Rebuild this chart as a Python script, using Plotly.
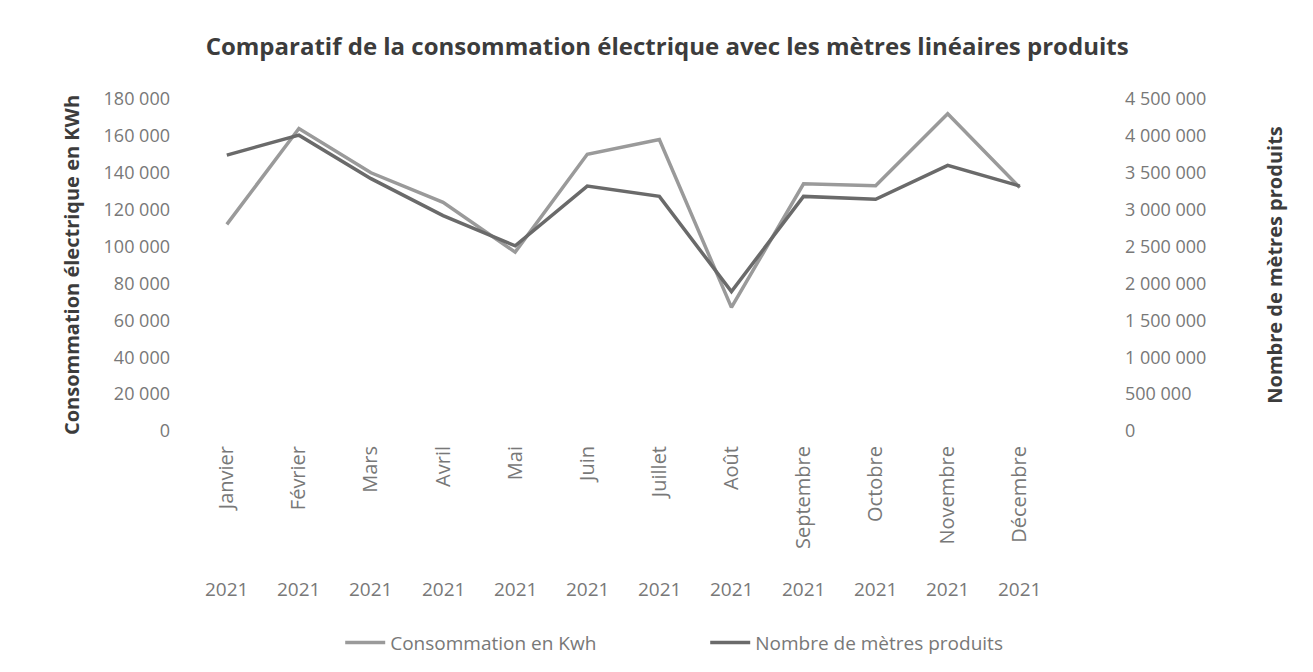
import plotly.graph_objects as go

# months / year (two-level category axis in the original)
months = ["Janvier", "Février", "Mars", "Avril", "Mai", "Juin", "Juillet",
          "Août", "Septembre", "Octobre", "Novembre", "Décembre"]
years = ["2021"] * 12

# values
conso_kwh = [112000, 164000, 140000, 124000, 97000, 150000, 158000,
             67000, 134000, 133000, 172000, 132000]
metres = [3740000, 4010000, 3420000, 2920000, 2510000, 3320000, 3180000,
          1890000, 3180000, 3140000, 3600000, 3320000]

FONT = "Open Sans"
LABEL_GREY = "#787878"
TITLE_GREY = "#3c3c3c"

fig = go.Figure()

fig.add_trace(go.Scatter(
    x=months, y=conso_kwh,
    mode="lines",
    name="Consommation en Kwh",
    line=dict(color="#9a9a9a", width=3.5),
    yaxis="y",
))

fig.add_trace(go.Scatter(
    x=months, y=metres,
    mode="lines",
    name="Nombre de mètres produits",
    line=dict(color="#6a6a6a", width=3.5),
    yaxis="y2",
))

# second level of the category axis: the year under each month
for m, yr in zip(months, years):
    fig.add_annotation(
        x=m, y=-0.476, xref="x", yref="paper",
        yanchor="middle",
        text=yr, showarrow=False,
        font=dict(family=FONT, size=19, color=LABEL_GREY),
    )

fig.update_layout(
    width=1313, height=672,
    paper_bgcolor="white", plot_bgcolor="white",
    separators=", ",
    margin=dict(l=177, r=201, t=91, b=249),
    title=dict(
        text="<b>Comparatif de la consommation électrique avec les mètres linéaires produits</b>",
        x=0.502, xanchor="center", y=0.943, yanchor="middle",
        font=dict(family=FONT, size=24, color=TITLE_GREY),
    ),
    xaxis=dict(
        type="category",
        range=[-0.58, 12.39],
        tickangle=-90,
        showgrid=False, showline=False, zeroline=False,
        ticks="",
        ticklabelstandoff=10,
        tickfont=dict(family=FONT, size=20, color=LABEL_GREY),
    ),
    yaxis=dict(
        range=[0, 180000],
        dtick=20000,
        tickformat=",d",
        showgrid=False, zeroline=False, showline=False,
        ticklabelstandoff=14,
        tickfont=dict(family=FONT, size=18, color=LABEL_GREY),
        title=dict(
            text="<b>Consommation électrique en KWh</b>",
            font=dict(family=FONT, size=20, color=TITLE_GREY),
            standoff=18,
        ),
    ),
    yaxis2=dict(
        range=[0, 4500000],
        dtick=500000,
        tickformat=",d",
        overlaying="y", side="right",
        showgrid=False, zeroline=False, showline=False,
        ticklabelstandoff=4,
        tickfont=dict(family=FONT, size=18, color=LABEL_GREY),
        title=dict(
            text="<b>Nombre de mètres produits</b>",
            font=dict(family=FONT, size=20, color=TITLE_GREY),
            standoff=62,
        ),
    ),
    legend=dict(
        orientation="h",
        x=0.166, xanchor="left",
        y=-0.58, yanchor="top",
        font=dict(family=FONT, size=19, color=LABEL_GREY),
        entrywidth=310,
        itemwidth=40,
    ),
)

fig.write_html("out.html")
